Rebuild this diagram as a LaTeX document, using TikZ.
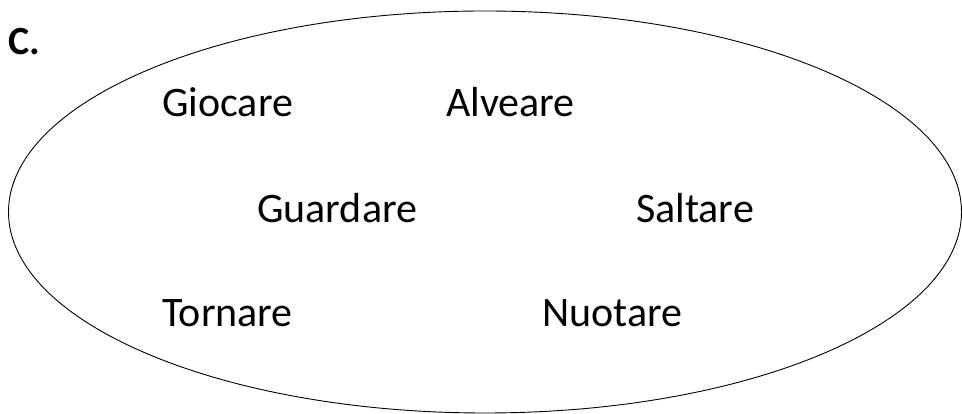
\documentclass[tikz,border=0pt]{standalone}
\usepackage{fontspec}
\setmainfont{Carlito}
\usetikzlibrary{shapes.geometric}
\tikzset{word/.style={anchor=base west,inner sep=0pt,font=\fontsize{42}{50}\selectfont}}

\begin{document}
\begin{tikzpicture}[x=1pt,y=1pt]
\useasboundingbox (0,0) rectangle (962,414);
\node[ellipse,draw=black,line width=0.9pt,inner sep=0pt,minimum width=953pt,minimum height=402pt] (set) at (485,202) {};
\node[word,font=\fontsize{40}{48}\selectfont\bfseries] (lbl) at (8,359) {C.};
\node[word] (giocare) at (162,297) {Giocare};
\node[word] (alveare) at (446,297) {Alveare};
\node[word] (guardare) at (257,191) {Guardare};
\node[word] (saltare) at (636,191) {Saltare};
\node[word] (tornare) at (162,87) {Tornare};
\node[word] (nuotare) at (542,87) {Nuotare};
\end{tikzpicture}
\end{document}
